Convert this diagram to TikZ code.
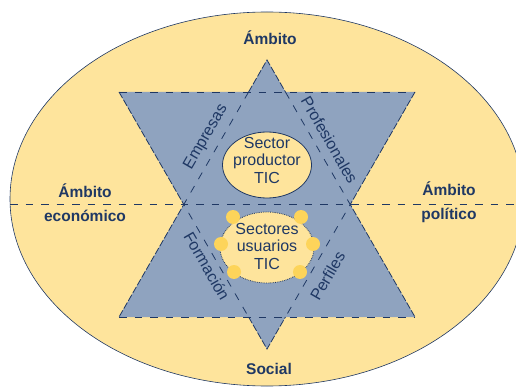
\documentclass[tikz,border=0pt]{standalone}
\usepackage{fontspec}
\setmainfont{Liberation Sans}
\usetikzlibrary{shapes.geometric}
\definecolor{navy}{RGB}{31,56,100}
\definecolor{starblue}{RGB}{143,163,191}
\definecolor{sand}{RGB}{254,228,156}
\definecolor{gold}{RGB}{253,212,90}
\tikzset{
  ambit/.style={font=\fontsize{15.5}{24}\selectfont\bfseries, text=navy, align=center, inner sep=0pt},
  sector/.style={font=\fontsize{16}{17.5}\selectfont, text=navy, align=center, inner sep=0pt},
  axis/.style={font=\fontsize{16}{18}\selectfont, text=navy, inner sep=0pt},
  edgeline/.style={navy, line width=0.8pt, dash pattern=on 7.5pt off 8pt},
  outline/.style={navy, line width=0.8pt, dash pattern=on 7pt off 2pt},
  dot/.style={circle, fill=gold, minimum size=14pt, inner sep=0pt},
}
\begin{document}
\begin{tikzpicture}[x=1pt,y=-1pt]
  \useasboundingbox (0,0) rectangle (516,387);
  \begin{scope}
    \clip (0,0) rectangle (516,387);
    \draw[navy, line width=0.6pt, fill=sand] (267,199) ellipse [x radius=257pt, y radius=187pt];
    % star
    \coordinate (apex) at (267,60);
    \coordinate (bl) at (119,317);
    \coordinate (br) at (415,317);
    \coordinate (tl) at (119,92);
    \coordinate (tr) at (415,92);
    \coordinate (foot) at (267,349);
    \coordinate (h1) at (intersection of apex--bl and tl--tr);
    \coordinate (h2) at (intersection of apex--br and tl--tr);
    \coordinate (hl) at (intersection of apex--bl and tl--foot);
    \coordinate (hr) at (intersection of apex--br and tr--foot);
    \coordinate (h4) at (intersection of tl--foot and bl--br);
    \coordinate (h5) at (intersection of tr--foot and bl--br);
    \fill[starblue] (apex) -- (bl) -- (br) -- cycle;
    \fill[starblue] (tl) -- (tr) -- (foot) -- cycle;
    \draw[outline] (h1) -- (apex) -- (h2);
    \draw[outline] (tl) -- (hl) -- (bl);
    \draw[outline] (tr) -- (hr) -- (br);
    \draw[outline] (h4) -- (foot) -- (h5);
    \draw[edgeline] (tl) -- (tr);
    \draw[edgeline] (bl) -- (br);
    \draw[edgeline] (h1) -- (hl) -- (h4);
    \draw[edgeline] (h2) -- (hr) -- (h5);
    \coordinate (west) at (10,204.5);
    \coordinate (east) at (524,204.5);
    \draw[edgeline] (west) -- (east);
  \end{scope}
  % sectors
  \node[ellipse, draw=navy, line width=0.8pt, fill=sand, minimum width=89pt, minimum height=66pt] (productor) at (267,165) {};
  \node[sector] (productor-text) at ([yshift=5pt]productor.center) {Sector\\productor\\TIC};
  \node[ellipse, draw=navy, densely dotted, line width=0.8pt, fill=sand, minimum width=94pt, minimum height=71pt] (usuarios) at (267,247.5) {};
  \foreach \x/\y in {233/217,301/217,221/244,313/244,234/272,300/272}
    \node[dot] (dot-\x-\y) at (\x,\y) {};
  \node[sector] (usuarios-text) at ([yshift=1.5pt]usuarios.center) {Sectores\\usuarios\\TIC};
  % axes
  \node[axis, rotate=60] (empresas) at (206,137) {Empresas};
  \node[axis, rotate=-60] (profesionales) at (329.5,140) {Profesionales};
  \node[axis, rotate=-60] (formacion) at (207,266) {Formación};
  \node[axis, rotate=60] (perfiles) at (327.5,276) {Perfiles};
  % ambits
  \node[ambit, anchor=base] (top) at (270,45) {Ámbito};
  \node[ambit, anchor=base] (social) at (269,374) {Social};
  \node[ambit] (economico) at (85,203) {Ámbito\\económico};
  \node[ambit] (politico) at (449,202) {Ámbito\\político};
\end{tikzpicture}
\end{document}
